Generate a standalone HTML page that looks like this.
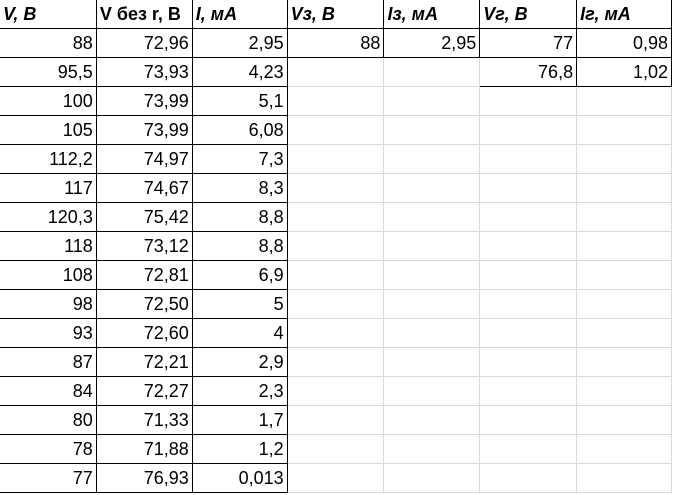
<!DOCTYPE html>
<html><head><meta charset="utf-8"><style>
html,body{margin:0;padding:0;background:#fff;width:673px;height:495px;overflow:hidden}
table{border-collapse:collapse;table-layout:fixed;font-family:"Liberation Sans",sans-serif;font-size:18px;color:#000;position:absolute;left:-1px;top:-1px}
td{height:29px;line-height:27px;padding:0 3px;box-sizing:border-box;border:1px solid #d9d9d9;text-align:right;white-space:nowrap;overflow:hidden}
td.b{border:1px solid #000}
td.h{font-weight:bold;font-style:italic;text-align:left}
td.hn{font-style:normal}
</style></head><body>
<table>
<colgroup><col style="width:97px"><col style="width:96px"><col style="width:95px"><col style="width:97px"><col style="width:96px"><col style="width:97px"><col style="width:95px"></colgroup>
<tr>
<td class="b h">V, B</td>
<td class="b h hn">V без r, B</td>
<td class="b h">I, мА</td>
<td class="b h">Vз, B</td>
<td class="b h">Iз, мА</td>
<td class="b h">Vг, B</td>
<td class="b h">Iг, мА</td>
</tr>
<tr><td class="b">88</td><td class="b">72,96</td><td class="b">2,95</td><td class="b">88</td><td class="b">2,95</td><td class="b">77</td><td class="b">0,98</td></tr>
<tr><td class="b">95,5</td><td class="b">73,93</td><td class="b">4,23</td><td></td><td></td><td class="b">76,8</td><td class="b">1,02</td></tr>
<tr><td class="b">100</td><td class="b">73,99</td><td class="b">5,1</td><td></td><td></td><td></td><td></td></tr>
<tr><td class="b">105</td><td class="b">73,99</td><td class="b">6,08</td><td></td><td></td><td></td><td></td></tr>
<tr><td class="b">112,2</td><td class="b">74,97</td><td class="b">7,3</td><td></td><td></td><td></td><td></td></tr>
<tr><td class="b">117</td><td class="b">74,67</td><td class="b">8,3</td><td></td><td></td><td></td><td></td></tr>
<tr><td class="b">120,3</td><td class="b">75,42</td><td class="b">8,8</td><td></td><td></td><td></td><td></td></tr>
<tr><td class="b">118</td><td class="b">73,12</td><td class="b">8,8</td><td></td><td></td><td></td><td></td></tr>
<tr><td class="b">108</td><td class="b">72,81</td><td class="b">6,9</td><td></td><td></td><td></td><td></td></tr>
<tr><td class="b">98</td><td class="b">72,50</td><td class="b">5</td><td></td><td></td><td></td><td></td></tr>
<tr><td class="b">93</td><td class="b">72,60</td><td class="b">4</td><td></td><td></td><td></td><td></td></tr>
<tr><td class="b">87</td><td class="b">72,21</td><td class="b">2,9</td><td></td><td></td><td></td><td></td></tr>
<tr><td class="b">84</td><td class="b">72,27</td><td class="b">2,3</td><td></td><td></td><td></td><td></td></tr>
<tr><td class="b">80</td><td class="b">71,33</td><td class="b">1,7</td><td></td><td></td><td></td><td></td></tr>
<tr><td class="b">78</td><td class="b">71,88</td><td class="b">1,2</td><td></td><td></td><td></td><td></td></tr>
<tr><td class="b">77</td><td class="b">76,93</td><td class="b">0,013</td><td></td><td></td><td></td><td></td></tr>
</table>
</body></html>
